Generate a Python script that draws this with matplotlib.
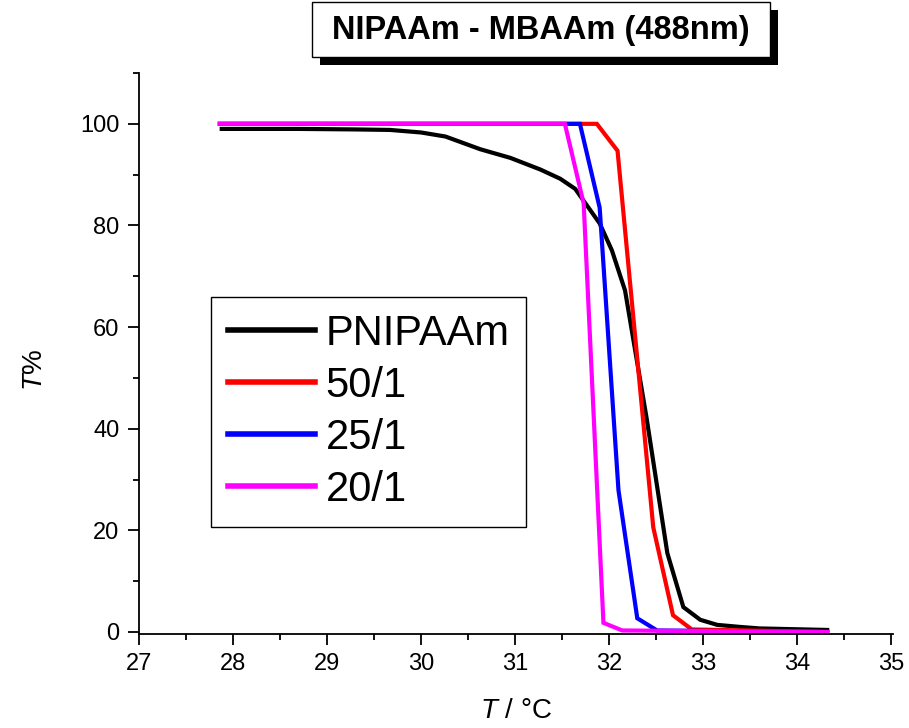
import matplotlib
matplotlib.use("Agg")
import matplotlib.pyplot as plt
from matplotlib.patches import Rectangle
from matplotlib.ticker import MultipleLocator

plt.rcParams['font.family'] = ['Liberation Sans', 'DejaVu Sans']
plt.rcParams['mathtext.fontset'] = 'custom'
plt.rcParams['mathtext.rm'] = 'Liberation Sans'
plt.rcParams['mathtext.it'] = 'Liberation Sans:italic'

# transmittance (%) vs temperature (°C)
t_pnipaam = [27.88, 28.7, 29.3, 29.67, 30.0, 30.26, 30.63, 30.95, 31.27, 31.48,
             31.64, 31.9, 32.03, 32.17, 32.4, 32.62, 32.79, 32.97, 33.15, 33.39,
             33.6, 34.32]
y_pnipaam = [99.0, 99.0, 98.9, 98.8, 98.3, 97.5, 95.0, 93.3, 91.0, 89.2,
             87.2, 80.4, 75.1, 67.2, 42.0, 15.5, 4.9, 2.4, 1.4, 1.0,
             0.7, 0.4]

t_50 = [27.86, 31.87, 32.09, 32.47, 32.68, 32.88, 34.32]
y_50 = [100.0, 100.0, 94.7, 20.6, 3.3, 0.5, 0.0]

t_25 = [27.86, 31.69, 31.90, 32.10, 32.30, 32.51, 34.32]
y_25 = [100.0, 100.0, 83.5, 27.9, 2.7, 0.3, 0.0]

t_20 = [27.86, 31.53, 31.73, 31.94, 32.14, 34.32]
y_20 = [100.0, 100.0, 84.3, 1.8, 0.3, 0.0]

labels = ["PNIPAAm", "50/1", "25/1", "20/1"]
colors = ["black", "#ff0000", "#0000ff", "#ff00ff"]

fig = plt.figure(figsize=(9.09, 7.28), dpi=100)
ax = fig.add_axes([0.1529, 0.1291, 0.8295, 0.7706])

series = [(t_pnipaam, y_pnipaam), (t_50, y_50), (t_25, y_25), (t_20, y_20)]
for (t, y), lab, c in zip(series, labels, colors):
    ax.plot(t, y, color=c, lw=3, label=lab, solid_joinstyle='miter')

ax.set_xlim(27, 35.02)
ax.set_ylim(-0.4, 110)
ax.xaxis.set_major_locator(MultipleLocator(1))
ax.xaxis.set_minor_locator(MultipleLocator(0.5))
ax.yaxis.set_major_locator(MultipleLocator(20))
ax.yaxis.set_minor_locator(MultipleLocator(10))
ax.set_yticks([0, 20, 40, 60, 80, 100])

for s in ['top', 'right']:
    ax.spines[s].set_visible(False)
for s in ['left', 'bottom']:
    ax.spines[s].set_linewidth(1.3)

ax.tick_params(which='major', direction='out', length=8, width=1.3, labelsize=17)
ax.tick_params(which='minor', direction='out', length=4.5, width=1.3)
ax.tick_params(axis='x', which='major', pad=6)
ax.tick_params(axis='y', which='major', pad=6)

ax.set_xlabel(r"$\mathit{T}$ / °C", fontsize=20)
ax.set_ylabel(r"$\mathit{T}$%", fontsize=20)
ax.xaxis.set_label_coords(0.5, -0.137)
ax.yaxis.set_label_coords(-0.138, 0.472)
ax.xaxis.label.set_va('center')
ax.yaxis.label.set_va('center')

leg = ax.legend(loc='upper left', bbox_to_anchor=(0.0955, 0.6007), borderaxespad=0,
                fontsize=30, handlelength=2.1, handletextpad=0.25, labelspacing=0.29,
                borderpad=0.4, fancybox=False, framealpha=1, edgecolor='black')
leg.get_frame().set_linewidth(1.0)
for h in leg.get_lines():
    h.set_linewidth(4)

# title box with drop shadow
fig.patches.append(Rectangle((320 / 909, 1 - 65 / 728), 458 / 909, 55 / 728,
                             transform=fig.transFigure, facecolor='black',
                             edgecolor='none', zorder=1))
fig.patches.append(Rectangle((312 / 909, 1 - 57 / 728), 458 / 909, 55 / 728,
                             transform=fig.transFigure, facecolor='white',
                             edgecolor='black', lw=1.0, zorder=2))
fig.text(541 / 909, 1 - 31 / 728, "NIPAAm - MBAAm (488nm)", fontsize=23.5,
         fontweight='bold', ha='center', va='center', zorder=3)

fig.savefig("out.png", dpi=100)
